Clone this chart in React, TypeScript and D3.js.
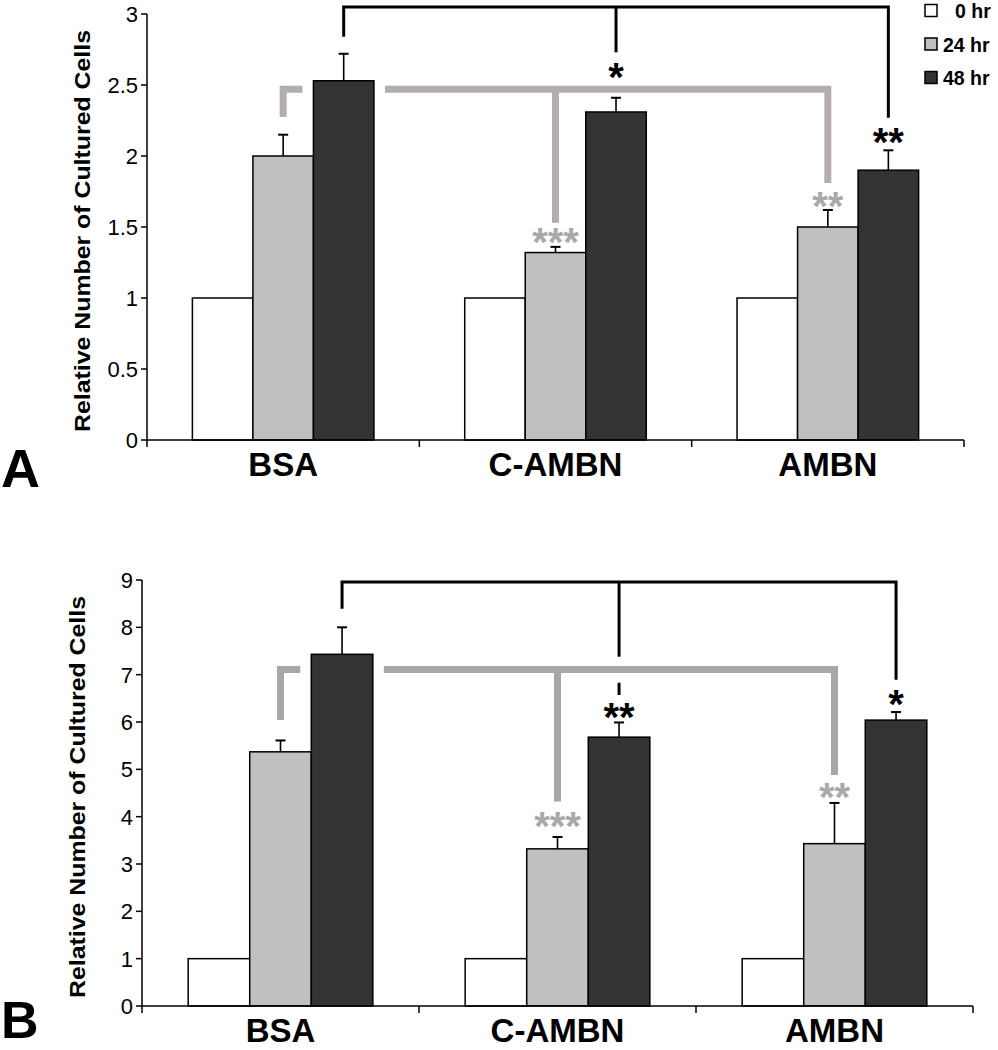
import React from "react";
import * as d3 from "d3";

const categories = ["BSA", "C-AMBN", "AMBN"];
const seriesNames = ["0 hr", "24 hr", "48 hr"];
const seriesColors = ["#ffffff", "#c0c0c0", "#333333"];

// Panel A
const aTicks = [0, 0.5, 1, 1.5, 2, 2.5, 3];
const aMean0 = [1, 1, 1];
const aMean24 = [2.0, 1.32, 1.5];
const aMean48 = [2.53, 2.31, 1.9];
const aErr24 = [0.15, 0.04, 0.12];
const aErr48 = [0.19, 0.1, 0.14];
const aBlackLevel = 3.05;
const aBlackDrops = [2.84, 2.73, 2.27];
const aGrayLevel = 2.47;
const aGrayDrops = [2.275, 1.53, 1.81];
const aStars = [
  { cat: "C-AMBN", s: 2, y: 2.62, text: "*", gray: false },
  { cat: "AMBN", s: 2, y: 2.162, text: "**", gray: false },
  { cat: "C-AMBN", s: 1, y: 1.458, text: "***", gray: true },
  { cat: "AMBN", s: 1, y: 1.711, text: "**", gray: true },
];

// Panel B
const bTicks = [0, 1, 2, 3, 4, 5, 6, 7, 8, 9];
const bMean0 = [1, 1, 1];
const bMean24 = [5.37, 3.32, 3.43];
const bMean48 = [7.43, 5.68, 6.04];
const bErr24 = [0.24, 0.25, 0.86];
const bErr48 = [0.57, 0.31, 0.17];
const bBlackLevel = 8.96;
const bBlackDrops = [8.39, 7.38, 6.89];
const bBlackResume = [6.83, 6.57];
const bGrayLevel = 7.11;
const bGrayDrops = [6.04, 4.32, 4.88];
const bStars = [
  { cat: "AMBN", s: 2, y: 6.57, text: "*", gray: false },
  { cat: "C-AMBN", s: 2, y: 6.3, text: "**", gray: false },
  { cat: "C-AMBN", s: 1, y: 4.0, text: "***", gray: true },
  { cat: "AMBN", s: 1, y: 4.61, text: "**", gray: true },
];

const FONT = "'Liberation Sans', Arial, Helvetica, sans-serif";

type PanelProps = {
  x0: number; x1: number; yTop: number; yBottom: number; max: number;
  ticks: number[]; means: number[][]; errs: (number[] | null)[];
  blackLevel: number; blackDrops: number[]; blackResume?: number[];
  grayLevel: number; grayDrops: number[]; grayColor: string;
  stars: { cat: string; s: number; y: number; text: string; gray: boolean }[];
  letter: string; letterY: number; letterSize: number;
};

function Panel(p: PanelProps) {
  const x = d3.scaleBand<string>().domain(categories).range([p.x0, p.x1]).paddingInner(0).paddingOuter(0);
  const xs = d3.scaleBand<string>().domain(seriesNames).range([0, x.bandwidth()]).paddingInner(0).paddingOuter(0.75);
  const y = d3.scaleLinear().domain([0, p.max]).range([p.yBottom, p.yTop]);
  const bw = xs.bandwidth();
  const cx = (c: string, s: number) => (x(c) as number) + (xs(seriesNames[s]) as number) + bw / 2;
  const barL = (c: string, s: number) => (x(c) as number) + (xs(seriesNames[s]) as number);
  const y0 = y(0);
  const boundaries = [...categories.map((c) => x(c) as number), p.x1];
  const gap = 11;
  const grayW = 7;
  const blackW = 3;
  const gx = categories.map((c) => cx(c, 1));
  const bx = categories.map((c) => cx(c, 2));
  const gl = y(p.grayLevel);
  const bl = y(p.blackLevel);
  const bsaBlackL = barL(categories[0], 2);
  const bsaBlackR = bsaBlackL + bw;
  const starSize = 40;
  return (
    <g>
      {/* gray bracket */}
      <g stroke={p.grayColor} strokeWidth={grayW} fill="none">
        <path d={`M${gx[0]},${y(p.grayDrops[0])}V${gl}H${bsaBlackL - gap}`} strokeLinejoin="miter" strokeLinecap="butt" />
        <path d={`M${bsaBlackR + gap},${gl}H${gx[2]}V${y(p.grayDrops[2])}`} strokeLinejoin="miter" />
        <line x1={gx[1]} x2={gx[1]} y1={gl} y2={y(p.grayDrops[1])} />
      </g>
      {/* black bracket */}
      <g stroke="#000" strokeWidth={blackW} fill="none">
        <path d={`M${bx[0]},${y(p.blackDrops[0])}V${bl}H${bx[2]}V${y(p.blackDrops[2])}`} strokeLinejoin="miter" />
        <line x1={bx[1]} x2={bx[1]} y1={bl} y2={y(p.blackDrops[1])} />
        {p.blackResume && (
          <line x1={bx[1]} x2={bx[1]} y1={y(p.blackResume[0])} y2={y(p.blackResume[1])} />
        )}
      </g>
      {/* bars */}
      {categories.map((c, ci) =>
        seriesNames.map((s, si) => {
          const v = p.means[si][ci];
          return (
            <rect key={c + s} x={barL(c, si)} y={y(v)} width={bw} height={y0 - y(v)}
              fill={seriesColors[si]} stroke="#000" strokeWidth={1.5} />
          );
        })
      )}
      {/* error bars */}
      {categories.map((c, ci) =>
        seriesNames.map((s, si) => {
          const e = p.errs[si];
          if (!e) return null;
          const v = p.means[si][ci];
          const xc = cx(c, si);
          return (
            <g key={"e" + c + s} stroke="#000" strokeWidth={1.6}>
              <line x1={xc} x2={xc} y1={y(v)} y2={y(v + e[ci])} />
              <line x1={xc - 5} x2={xc + 5} y1={y(v + e[ci])} y2={y(v + e[ci])} strokeWidth={2} />
            </g>
          );
        })
      )}
      {/* stars */}
      {p.stars.map((st, i) => (
        <text key={"s" + i} x={cx(st.cat, st.s)} y={y(st.y) + starSize * 0.58} textAnchor="middle"
          fontFamily={FONT} fontWeight="bold" fontSize={starSize} fill={st.gray ? "#a9a9a9" : "#000"}>
          {st.text}
        </text>
      ))}
      {/* y axis */}
      <line x1={p.x0} x2={p.x0} y1={y0} y2={y(p.max)} stroke="#000" strokeWidth={1.5} />
      {p.ticks.map((t) => (
        <g key={"t" + t}>
          <line x1={p.x0 - 6} x2={p.x0} y1={y(t)} y2={y(t)} stroke="#000" strokeWidth={1.5} />
          <text x={p.x0 - 9} y={y(t) + 8} textAnchor="end" fontFamily={FONT} fontSize={22} fill="#000">
            {String(t)}
          </text>
        </g>
      ))}
      {/* x axis */}
      <line x1={p.x0} x2={p.x1} y1={y0} y2={y0} stroke="#000" strokeWidth={1.5} />
      {boundaries.map((b, i) => (
        <line key={"b" + i} x1={b} x2={b} y1={y0} y2={y0 + 7} stroke="#000" strokeWidth={1.5} />
      ))}
      {categories.map((c) => (
        <text key={"c" + c} x={(x(c) as number) + x.bandwidth() / 2} y={y0 + 36} textAnchor="middle"
          fontFamily={FONT} fontWeight="bold" fontSize={33} fill="#000">
          {c}
        </text>
      ))}
      {/* y title */}
      <text transform={`translate(${p.x0 - 57},${(y0 + y(p.max)) / 2 + 4}) rotate(-90)`} textAnchor="middle"
        fontFamily={FONT} fontWeight="bold" fontSize={22} textLength={402} lengthAdjust="spacingAndGlyphs" fill="#000">
        Relative Number of Cultured Cells
      </text>
      <text x={1} y={p.letterY} fontFamily={FONT} fontWeight="bold" fontSize={p.letterSize} fill="#000">
        {p.letter}
      </text>
    </g>
  );
}

export default function App() {
  const legendY = [10.5, 44, 77.5];
  const legendText = ["0 hr", "24 hr", "48 hr"];
  return (
    <svg width={998} height={1050} style={{ position: "absolute", left: 0, top: 0, background: "#fff" }}>
      <rect width={998} height={1050} fill="#fff" />
      <Panel x0={147} x1={964} yTop={14} yBottom={440} max={3} ticks={aTicks}
        means={[aMean0, aMean24, aMean48]} errs={[null, aErr24, aErr48]}
        blackLevel={aBlackLevel} blackDrops={aBlackDrops}
        grayLevel={aGrayLevel} grayDrops={aGrayDrops} grayColor="#b3adad"
        stars={aStars} letter="A" letterY={487} letterSize={54} />
      <Panel x0={142} x1={973} yTop={580} yBottom={1006} max={9} ticks={bTicks}
        means={[bMean0, bMean24, bMean48]} errs={[null, bErr24, bErr48]}
        blackLevel={bBlackLevel} blackDrops={bBlackDrops} blackResume={bBlackResume}
        grayLevel={bGrayLevel} grayDrops={bGrayDrops} grayColor="#a7a7a7"
        stars={bStars} letter="B" letterY={1038} letterSize={52} />
      {legendText.map((t, i) => (
        <g key={t}>
          <rect x={925} y={legendY[i] - 6} width={12} height={12} fill={seriesColors[i]} stroke="#000" strokeWidth={1.5} />
          <text x={i === 0 ? 955 : 943} y={legendY[i] + 7.5} fontFamily={FONT} fontWeight="bold" fontSize={19.5} fill="#000">
            {t}
          </text>
        </g>
      ))}
    </svg>
  );
}
